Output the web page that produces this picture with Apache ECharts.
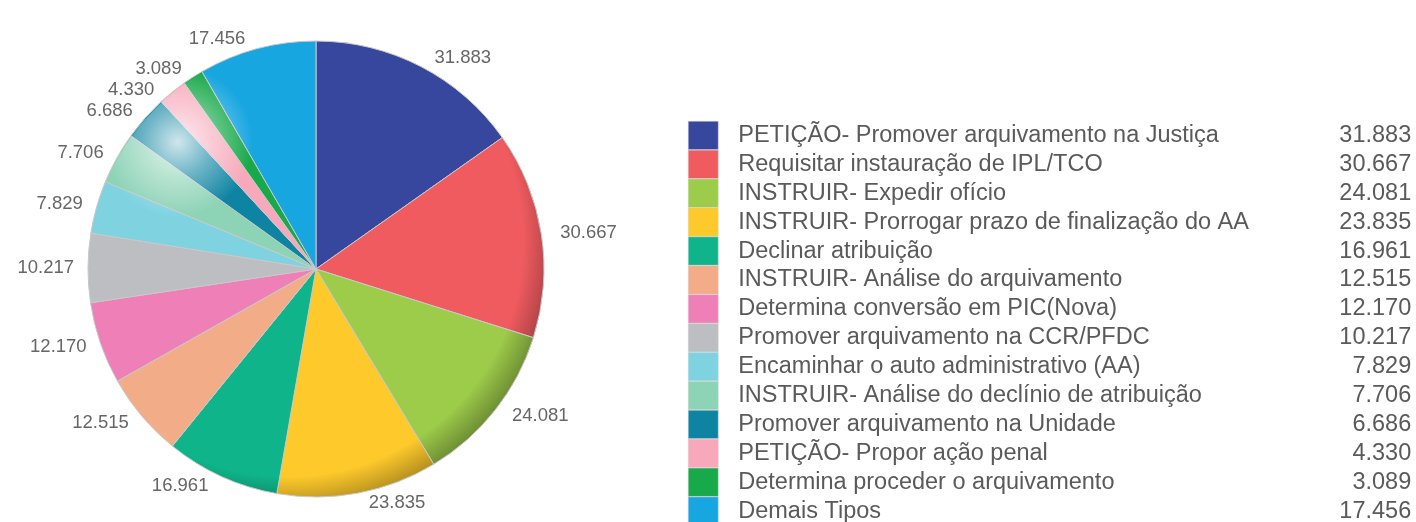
<!DOCTYPE html>
<html>
<head>
<meta charset="utf-8">
<script src="https://cdn.jsdelivr.net/npm/echarts@6/dist/echarts.min.js"></script>
<style>
html,body{margin:0;padding:0;background:#fff;}
#chart{width:1416px;height:522px;}
</style>
</head>
<body>
<div id="chart"></div>
<script>
const categories = [
  'PETIÇÃO- Promover arquivamento na Justiça',
  'Requisitar instauração de IPL/TCO',
  'INSTRUIR- Expedir ofício',
  'INSTRUIR- Prorrogar prazo de finalização do AA',
  'Declinar atribuição',
  'INSTRUIR- Análise do arquivamento',
  'Determina conversão em PIC(Nova)',
  'Promover arquivamento na CCR/PFDC',
  'Encaminhar o auto administrativo (AA)',
  'INSTRUIR- Análise do declínio de atribuição',
  'Promover arquivamento na Unidade',
  'PETIÇÃO- Propor ação penal',
  'Determina proceder o arquivamento',
  'Demais Tipos'
];
const values = [31883, 30667, 24081, 23835, 16961, 12515, 12170, 10217, 7829, 7706, 6686, 4330, 3089, 17456];
const colors = ['#38479E', '#EF5B5F', '#9DCB4A', '#FDC92B', '#10B48A', '#F2AC87', '#EE7FB7', '#BCBEC1', '#7FD3E1', '#8DD3B6', '#0E84A2', '#F7A8BA', '#17A94A', '#18A6E0'];

function fmt(v){
  const s = String(v);
  return s.length > 3 ? s.slice(0, s.length-3) + '.' + s.slice(s.length-3) : s;
}
function shade(hex, f){
  const n = parseInt(hex.slice(1),16);
  let r=(n>>16)&255,g=(n>>8)&255,b=n&255;
  r=Math.round(r*f);g=Math.round(g*f);b=Math.round(b*f);
  return 'rgb('+r+','+g+','+b+')';
}
const CX = 316, CY = 269, R = 228;
const FONT = 'Liberation Sans, Arial, sans-serif';
const data = categories.map((name,i)=>({
  name: name,
  value: values[i],
  itemStyle: {
    color: {
      type:'radial', x: CX-28, y: CY-28, r: R+40, global: true,
      colorStops: [
        {offset:0, color: colors[i]},
        {offset:0.88, color: colors[i]},
        {offset:1, color: shade(colors[i], 0.7)}
      ]
    }
  }
}));
const highlight = categories.map((name,i)=>({
  name: name,
  value: values[i]
}));
const valueByName = {};
categories.forEach((c,i)=>valueByName[c]=values[i]);

const chart = echarts.init(document.getElementById('chart'));
chart.setOption({
  animation: false,
  color: colors,
  legend: {
    orient: 'vertical',
    left: 688,
    top: 121,
    padding: 0,
    height: 420,
    itemWidth: 30,
    itemHeight: 28.4,
    itemGap: 0,
    icon: 'rect',
    selectedMode: false,
    data: categories.map((c,i)=>({name:c, itemStyle:{color:colors[i], borderColor:'#d0d0d0', borderWidth:0.5}})),
    formatter: function(name){ return '{n|' + name + '}{v|' + fmt(valueByName[name]) + '}'; },
    textStyle: {
      fontFamily: FONT,
      fontSize: 23.5,
      color: '#5a5a5a',
      lineHeight: 28.4,
      rich: {
        n: {width: 580, padding: [0,0,0,15], fontSize: 23.5, lineHeight: 28.4, color:'#5a5a5a', fontFamily: FONT},
        v: {width: 93, align: 'right', fontSize: 23.5, lineHeight: 28.4, color:'#5a5a5a', fontFamily: FONT}
      }
    }
  },
  series: [{
    type: 'pie',
    center: [CX, CY],
    radius: R,
    startAngle: 90,
    clockwise: true,
    avoidLabelOverlap: true,
    data: data,
    itemStyle: {borderColor: '#c8c8c8', borderWidth: 1},
    label: {
      show: true,
      position: 'outside',
      formatter: function(p){ return fmt(p.value); },
      fontFamily: FONT,
      fontSize: 18.5,
      color: '#666'
    },
    labelLine: {show: false, length: 10, length2: 4},
    emphasis: {disabled: true}
  }, {
    type: 'pie',
    center: [CX, CY],
    radius: R - 1,
    startAngle: 90,
    clockwise: true,
    silent: true,
    data: highlight,
    legendHoverLink: false,
    itemStyle: {
      borderWidth: 0,
      color: {
        type:'radial', x: 178, y: 142, r: 75, global: true,
        colorStops: [
          {offset:0, color:'rgba(255,255,255,0.8)'},
          {offset:0.45, color:'rgba(255,255,255,0.4)'},
          {offset:1, color:'rgba(255,255,255,0)'}
        ]
      }
    },
    label: {show: false},
    labelLine: {show: false},
    emphasis: {disabled: true},
    tooltip: {show: false}
  }]
});
</script>
</body>
</html>
